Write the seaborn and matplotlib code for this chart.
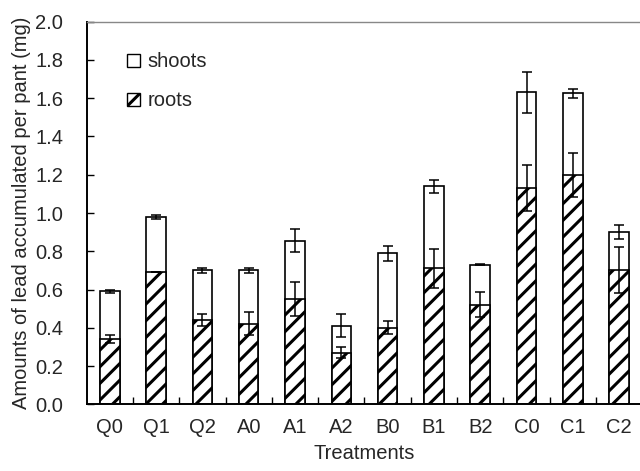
import matplotlib
matplotlib.use("Agg")
import matplotlib.pyplot as plt
from matplotlib.patches import Patch
from matplotlib.ticker import FixedLocator, MultipleLocator
import seaborn as sns
import pandas as pd

categories = ['Q0', 'Q1', 'Q2', 'A0', 'A1', 'A2', 'B0', 'B1', 'B2', 'C0', 'C1', 'C2']
roots = [0.34, 0.69, 0.44, 0.42, 0.55, 0.27, 0.40, 0.71, 0.52, 1.13, 1.20, 0.70]
total = [0.59, 0.98, 0.70, 0.70, 0.855, 0.41, 0.79, 1.14, 0.73, 1.63, 1.625, 0.90]
roots_err = [0.02, 0.0, 0.03, 0.06, 0.09, 0.03, 0.035, 0.10, 0.065, 0.12, 0.115, 0.12]
total_err = [0.01, 0.01, 0.012, 0.015, 0.06, 0.06, 0.04, 0.035, 0.003, 0.105, 0.025, 0.035]

df = pd.DataFrame({'Treatments': categories, 'roots': roots, 'total': total})

sns.set_style('ticks')
plt.rcParams['font.family'] = ['Liberation Sans', 'DejaVu Sans']
plt.rcParams['hatch.linewidth'] = 2.2
plt.rcParams['hatch.color'] = 'black'

FS = 14.5

fig = plt.figure(figsize=(6.4, 4.71), dpi=100)
ax = fig.add_axes([0.1355, 0.1416, 0.868, 0.8123])

sns.barplot(data=df, x='Treatments', y='total', color='white', edgecolor='black',
            linewidth=1.2, width=0.42, errorbar=None, ax=ax, saturation=1)
sns.barplot(data=df, x='Treatments', y='roots', color='white', edgecolor='black',
            linewidth=1.2, width=0.42, errorbar=None, ax=ax, saturation=1,
            hatch='//')

ax.errorbar(categories, total, yerr=total_err, fmt='none', ecolor='black',
            elinewidth=1.1, capsize=3.8, capthick=1.1, zorder=5)
ax.errorbar(categories, roots, yerr=roots_err, fmt='none', ecolor='black',
            elinewidth=1.1, capsize=3.8, capthick=1.1, zorder=5)

ax.set_xlim(-0.5, len(categories) - 0.5)
ax.set_ylim(0, 2.0)
ax.yaxis.set_major_locator(MultipleLocator(0.2))
ax.yaxis.set_major_formatter(matplotlib.ticker.FormatStrFormatter('%.1f'))

ax.set_xlabel('Treatments', fontsize=FS, labelpad=5)
ax.set_ylabel('Amounts of lead accumulated per pant (mg)', fontsize=FS, labelpad=3)

ax.tick_params(axis='y', direction='in', length=5, width=1, pad=17, labelsize=FS, color='black')
ax.tick_params(axis='x', which='major', length=0, pad=10, labelsize=FS)
ax.xaxis.set_minor_locator(FixedLocator([i + 0.5 for i in range(len(categories) - 1)]))
ax.tick_params(axis='x', which='minor', direction='in', length=5, width=1, color='black')

for s in ['left', 'bottom']:
    ax.spines[s].set_color('black')
    ax.spines[s].set_linewidth(1.4)
ax.spines['top'].set_color('#888888')
ax.spines['top'].set_linewidth(1.0)
ax.spines['right'].set_visible(False)

handles = [Patch(facecolor='white', edgecolor='black', linewidth=1.0),
           Patch(facecolor='white', edgecolor='black', linewidth=1.0, hatch='//')]
ax.legend(handles, ['shoots', 'roots'], loc='upper left', bbox_to_anchor=(0.072, 0.92),
          frameon=False, fontsize=FS, handlelength=0.65, handleheight=0.65,
          handletextpad=0.4, labelspacing=1.0, borderpad=0, borderaxespad=0)

fig.savefig('out.png', dpi=100)
